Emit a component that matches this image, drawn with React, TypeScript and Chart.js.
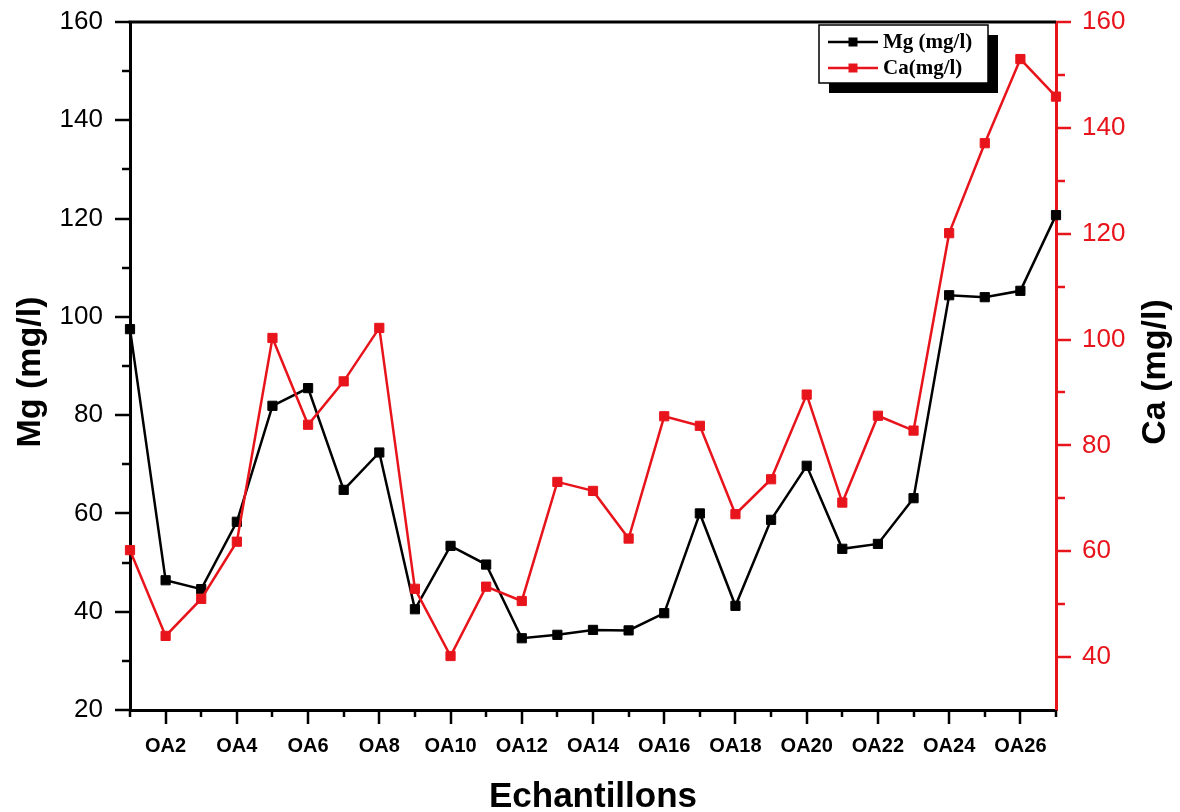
import React, { useEffect, useRef } from 'react';
import { Chart, registerables } from 'chart.js';

Chart.register(...registerables);

const categories = ['OA1', 'OA2', 'OA3', 'OA4', 'OA5', 'OA6', 'OA7', 'OA8', 'OA9', 'OA10', 'OA11', 'OA12', 'OA13', 'OA14', 'OA15', 'OA16', 'OA17', 'OA18', 'OA19', 'OA20', 'OA21', 'OA22', 'OA23', 'OA24', 'OA25', 'OA26', 'OA27'];

const mgValues = [97.5, 46.4, 44.6, 58.3, 81.9, 85.5, 64.8, 72.4, 40.5, 53.4, 49.6, 34.6, 35.3, 36.3, 36.2, 39.7, 60.0, 41.2, 58.7, 69.7, 52.8, 53.8, 63.1, 104.4, 104.0, 105.3, 120.7];
const caValues = [60.2, 44.0, 51.0, 61.8, 100.3, 83.9, 92.1, 102.2, 52.9, 40.2, 53.3, 50.6, 73.1, 71.4, 62.4, 85.5, 83.7, 67.0, 73.6, 89.6, 69.2, 85.6, 82.8, 120.1, 137.1, 153.0, 145.9];

const leftTickValues = [20, 30, 40, 50, 60, 70, 80, 90, 100, 110, 120, 130, 140, 150, 160];
const rightTickValues = [40, 50, 60, 70, 80, 90, 100, 110, 120, 130, 140, 150, 160];

const RED = '#e8141c';
const BLACK = '#000000';
const SANS = '"Liberation Sans", Arial, sans-serif';
const SERIF = '"Liberation Serif", "Times New Roman", serif';

const zeroPad = (scale: any) => {
  scale.paddingTop = 0;
  scale.paddingBottom = 0;
  scale.paddingLeft = 0;
  scale.paddingRight = 0;
};

const decorPlugin = {
  id: 'decor',
  afterDraw(chart: any) {
    const ctx = chart.ctx as CanvasRenderingContext2D;
    const { left, right, top, bottom } = chart.chartArea;
    const xs = chart.scales.x;
    const yl = chart.scales.y;
    const yr = chart.scales.y1;
    ctx.save();
    ctx.lineCap = 'butt';

    // top frame line
    ctx.strokeStyle = BLACK;
    ctx.lineWidth = 3;
    ctx.beginPath();
    ctx.moveTo(left - 1.5, top);
    ctx.lineTo(right, top);
    ctx.stroke();

    // x ticks
    ctx.lineWidth = 2.5;
    ctx.strokeStyle = BLACK;
    categories.forEach((_, i) => {
      const px = Math.round(xs.getPixelForValue(i));
      const len = i % 2 === 1 ? 14 : 7;
      ctx.beginPath();
      ctx.moveTo(px, bottom);
      ctx.lineTo(px, bottom + len);
      ctx.stroke();
    });

    // left y ticks
    leftTickValues.forEach((v) => {
      const py = Math.round(yl.getPixelForValue(v));
      const len = v % 20 === 0 ? 15 : 8;
      ctx.beginPath();
      ctx.moveTo(left, py);
      ctx.lineTo(left - len, py);
      ctx.stroke();
    });

    // right y ticks
    ctx.strokeStyle = RED;
    rightTickValues.forEach((v) => {
      const py = Math.round(yr.getPixelForValue(v));
      const len = v % 20 === 0 ? 15 : 9;
      ctx.beginPath();
      ctx.moveTo(right, py);
      ctx.lineTo(right + len, py);
      ctx.stroke();
    });

    // axis titles
    ctx.fillStyle = BLACK;
    ctx.font = `bold 34px ${SANS}`;
    ctx.textAlign = 'center';
    ctx.textBaseline = 'middle';
    ctx.save();
    ctx.translate(31, 372);
    ctx.rotate(-Math.PI / 2);
    ctx.fillText('Mg (mg/l)', 0, 0);
    ctx.restore();
    ctx.save();
    ctx.translate(1156, 372);
    ctx.rotate(-Math.PI / 2);
    ctx.fillText('Ca (mg/l)', 0, 0);
    ctx.restore();
    ctx.font = `bold 35px ${SANS}`;
    ctx.textBaseline = 'alphabetic';
    ctx.fillText('Echantillons', 593, 807);

    // legend
    const lx = 819, ly = 25, lw = 169, lh = 58;
    ctx.fillStyle = BLACK;
    ctx.fillRect(lx + 10, ly + 10, lw, lh);
    ctx.fillStyle = '#ffffff';
    ctx.fillRect(lx, ly, lw, lh);
    ctx.strokeStyle = BLACK;
    ctx.lineWidth = 1.5;
    ctx.strokeRect(lx, ly, lw, lh);
    const rows = [
      { ds: chart.data.datasets[0], y: 42 },
      { ds: chart.data.datasets[1], y: 68 },
    ];
    rows.forEach(({ ds, y }) => {
      ctx.strokeStyle = ds.borderColor;
      ctx.lineWidth = 2.5;
      ctx.beginPath();
      ctx.moveTo(828, y);
      ctx.lineTo(878, y);
      ctx.stroke();
      ctx.fillStyle = ds.borderColor;
      ctx.fillRect(853 - 4.5, y - 4.5, 9, 9);
      ctx.fillStyle = BLACK;
      ctx.font = `bold 21px ${SERIF}`;
      ctx.textAlign = 'left';
      ctx.textBaseline = 'middle';
      ctx.fillText(ds.label, 883, y + 1);
    });
    ctx.restore();
  },
};

export default function App() {
  const canvasRef = useRef<HTMLCanvasElement | null>(null);

  useEffect(() => {
    const canvas = canvasRef.current;
    if (!canvas) return;
    const chart = new Chart(canvas, {
      type: 'line',
      data: {
        labels: categories,
        datasets: [
          {
            label: 'Mg (mg/l)',
            data: mgValues,
            yAxisID: 'y',
            borderColor: BLACK,
            backgroundColor: BLACK,
            borderWidth: 2.5,
            pointStyle: 'rect',
            pointRadius: 6.5,
            pointBorderWidth: 1,
            pointBackgroundColor: BLACK,
            pointBorderColor: BLACK,
            tension: 0,
            order: 2,
          },
          {
            label: 'Ca(mg/l)',
            data: caValues,
            yAxisID: 'y1',
            borderColor: RED,
            backgroundColor: RED,
            borderWidth: 2.5,
            pointStyle: 'rect',
            pointRadius: 6.5,
            pointBorderWidth: 1,
            pointBackgroundColor: RED,
            pointBorderColor: RED,
            tension: 0,
            order: 1,
          },
        ],
      },
      options: {
        responsive: false,
        animation: false,
        devicePixelRatio: 1,
        layout: { padding: { top: 22, left: 0, right: 0, bottom: 0 } },
        plugins: {
          legend: { display: false },
          tooltip: { enabled: false },
        },
        scales: {
          x: {
            type: 'category',
            offset: false,
            grid: { display: true, drawOnChartArea: false, drawTicks: false },
            border: { display: true, color: BLACK, width: 3 },
            ticks: {
              autoSkip: false,
              maxRotation: 0,
              minRotation: 0,
              padding: 24,
              color: BLACK,
              font: { family: SANS, size: 20, weight: 'bold' },
              callback: (_v: any, i: number) => (i % 2 === 1 ? categories[i] : ''),
            },
            afterFit: (scale: any) => {
              scale.height = 102;
              zeroPad(scale);
            },
          },
          y: {
            type: 'linear',
            position: 'left',
            min: 20,
            max: 160,
            grid: { display: true, drawOnChartArea: false, drawTicks: false },
            border: { display: true, color: BLACK, width: 3 },
            ticks: {
              stepSize: 10,
              padding: 27,
              color: BLACK,
              font: { family: SANS, size: 26 },
              callback: (v: any) => (Number(v) % 20 === 0 ? String(v) : ''),
            },
            afterFit: (scale: any) => {
              scale.width = 130;
              zeroPad(scale);
            },
          },
          y1: {
            type: 'linear',
            position: 'right',
            min: 30,
            max: 160,
            grid: { display: true, drawOnChartArea: false, drawTicks: false },
            border: { display: true, color: RED, width: 3 },
            ticks: {
              stepSize: 10,
              padding: 26,
              color: RED,
              font: { family: SANS, size: 26 },
              callback: (v: any) => (Number(v) % 20 === 0 ? String(v) : ''),
            },
            afterFit: (scale: any) => {
              scale.width = 124;
              zeroPad(scale);
            },
          },
        },
      },
      plugins: [decorPlugin],
    });
    return () => {
      chart.destroy();
    };
  }, []);

  return (
    <div style={{ position: 'fixed', left: 0, top: 0, width: 1180, height: 812, background: '#ffffff' }}>
      <canvas ref={canvasRef} width={1180} height={812} style={{ display: 'block', width: 1180, height: 812 }} />
    </div>
  );
}
